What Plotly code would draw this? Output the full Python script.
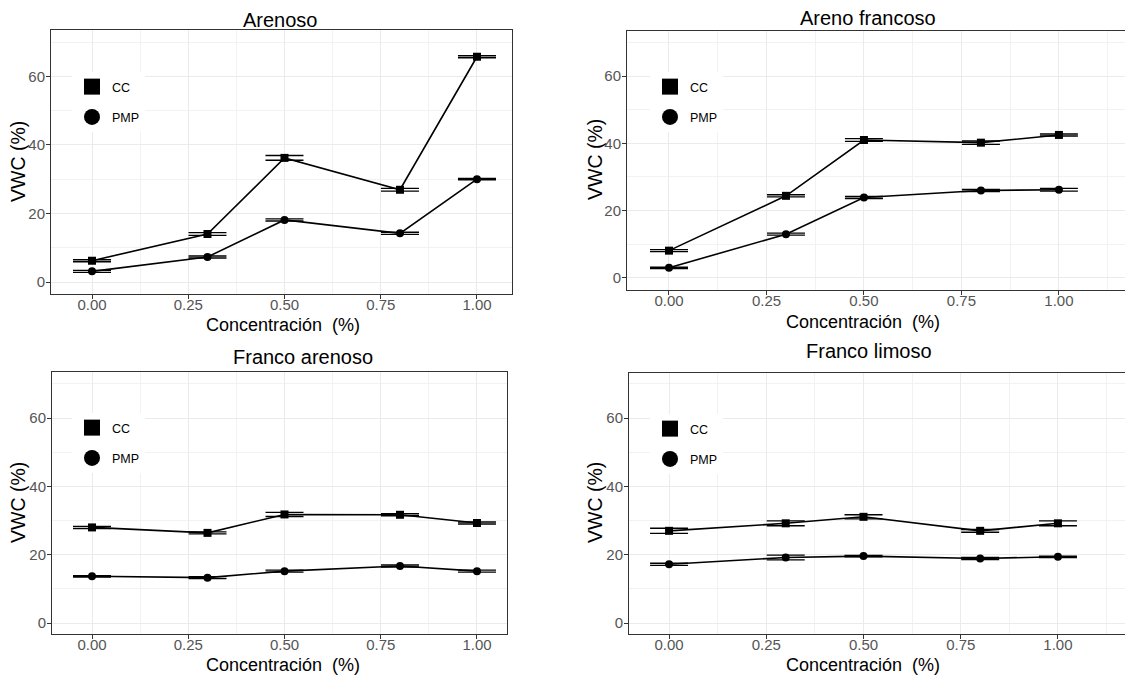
import plotly.graph_objects as go

# ---------------- data ----------------
conc = [0.0, 0.3, 0.5, 0.8, 1.0]
panel_titles = ["Arenoso", "Areno francoso", "Franco arenoso", "Franco limoso"]
series_names = ["CC", "PMP"]

cc_arenoso = [6.2, 14.0, 36.2, 26.9, 65.7]
pmp_arenoso = [3.1, 7.3, 18.1, 14.2, 30.0]
cc_err_arenoso = [0.3, 0.4, 0.7, 0.4, 0.3]
pmp_err_arenoso = [0.3, 0.3, 0.3, 0.3, 0.2]

cc_areno_francoso = [8.1, 24.4, 41.0, 40.2, 42.5]
pmp_areno_francoso = [3.0, 13.0, 23.9, 26.0, 26.2]
cc_err_areno_francoso = [0.3, 0.3, 0.4, 0.5, 0.3]
pmp_err_areno_francoso = [0.2, 0.3, 0.3, 0.3, 0.4]

cc_franco_arenoso = [28.0, 26.4, 31.8, 31.7, 29.3]
pmp_franco_arenoso = [13.7, 13.3, 15.2, 16.7, 15.2]
cc_err_franco_arenoso = [0.3, 0.3, 0.6, 0.3, 0.3]
pmp_err_franco_arenoso = [0.2, 0.3, 0.3, 0.3, 0.3]

cc_franco_limoso = [27.0, 29.2, 31.1, 27.0, 29.2]
pmp_franco_limoso = [17.2, 19.2, 19.6, 18.9, 19.4]
cc_err_franco_limoso = [0.75, 0.7, 0.6, 0.4, 0.7]
pmp_err_franco_limoso = [0.3, 0.7, 0.2, 0.3, 0.2]

x_ticks = [0.0, 0.25, 0.5, 0.75, 1.0]
x_ticktext = ["0.00", "0.25", "0.50", "0.75", "1.00"]
y_ticks = [0, 20, 40, 60]
x_title = "Concentración  (%)"
y_title = "VWC (%)"

cc_series = [cc_arenoso, cc_areno_francoso, cc_franco_arenoso, cc_franco_limoso]
pmp_series = [pmp_arenoso, pmp_areno_francoso, pmp_franco_arenoso, pmp_franco_limoso]
cc_errs = [cc_err_arenoso, cc_err_areno_francoso, cc_err_franco_arenoso, cc_err_franco_limoso]
pmp_errs = [pmp_err_arenoso, pmp_err_areno_francoso, pmp_err_franco_arenoso, pmp_err_franco_limoso]

# ---------------- layout geometry ----------------
OFF = 8                      # page body margin
W, H = 1133 - OFF, 675 - OFF
FONT = "Liberation Sans, Arial, sans-serif"


def px(x):
    return (x - OFF) / W


def py(y):
    return 1 - (y - OFF) / H


# pixel boxes in window coords: (left, right, top, bottom)
boxes = [(51, 512, 30, 294), (627, 1133, 31, 290), (52, 507, 372, 634), (629, 1133, 373, 634)]
xranges = [(-0.1065, 1.091), (-0.1077, 1.19), (-0.104, 1.078), (-0.103, 1.193)]
yranges = [(-3.5, 73.5), (-3.6, 73.4), (-3.2, 73.5), (-3.2, 73.2)]
right_border = [True, False, True, False]
title_pos = [(280, 20), (868, 18), (303, 357), (869, 351)]
xtitle_pos = [(283, 325), (863, 322), (283, 665), (863, 665)]
ytitle_pos = [(18, 162), (595, 160), (18, 503), (595, 503)]
legend_pos = [(72, 72), (650, 72), (72, 413), (650, 414)]

fig = go.Figure()
layout = dict(
    width=W, height=H,
    margin=dict(l=0, r=0, t=0, b=0, autoexpand=False),
    paper_bgcolor="white", plot_bgcolor="white",
    font=dict(family=FONT, color="black"),
    showlegend=True,
    annotations=[],
)

for i in range(4):
    sfx = "" if i == 0 else str(i + 1)
    xa, ya = "x" + sfx, "y" + sfx
    lg = "legend" + sfx
    l, r, t, b = boxes[i]
    layout["xaxis" + sfx] = dict(
        domain=[px(l), min(px(r), 1.0)], range=list(xranges[i]), anchor=ya, automargin=False,
        tickvals=x_ticks, ticktext=x_ticktext,
        ticks="outside", ticklen=4, tickcolor="#333333", tickwidth=1,
        ticklabelstandoff=-7,
        tickfont=dict(size=15, color="#555555", family=FONT),
        showgrid=True, gridcolor="#EBEBEB", gridwidth=1,
        minor=dict(dtick=0.125, tick0=0, showgrid=True, gridcolor="#F2F2F2", gridwidth=0.6, ticks=""),
        zeroline=False, showline=True, linecolor="#333333", linewidth=1, mirror=True,
    )
    layout["yaxis" + sfx] = dict(
        domain=[py(b), py(t)], range=list(yranges[i]), anchor=xa, automargin=False,
        tickvals=y_ticks,
        ticks="outside", ticklen=4, tickcolor="#333333", tickwidth=1,
        ticklabelstandoff=-2,
        tickfont=dict(size=15, color="#555555", family=FONT),
        showgrid=True, gridcolor="#EBEBEB", gridwidth=1,
        minor=dict(dtick=10, tick0=0, showgrid=True, gridcolor="#F2F2F2", gridwidth=0.6, ticks=""),
        zeroline=False, showline=True, linecolor="#333333", linewidth=1,
        mirror=right_border[i],
    )
    lx, ly = legend_pos[i]
    layout[lg] = dict(
        x=px(lx), y=py(ly), xanchor="left", yanchor="top",
        bgcolor="white", borderwidth=0, font=dict(size=12.5, color="black", family=FONT),
        tracegroupgap=11, itemsizing="trace", traceorder="grouped",
    )

    for name, ys, errs, sym in [("CC", cc_series[i], cc_errs[i], "square"),
                                ("PMP", pmp_series[i], pmp_errs[i], "circle")]:
        fig.add_trace(go.Scatter(
            x=conc, y=ys, mode="lines+markers", name=name,
            line=dict(color="black", width=1.6),
            marker=dict(symbol=sym, size=8, color="black"),
            error_y=dict(type="data", array=errs, visible=True, color="black",
                         thickness=1.4, width=19),
            xaxis=xa, yaxis=ya, showlegend=False, hoverinfo="x+y",
        ))
        # legend key (no data, legend only)
        fig.add_trace(go.Scatter(
            x=[None], y=[None], mode="markers", name=name,
            marker=dict(symbol=sym, size=16, color="black"),
            xaxis=xa, yaxis=ya, legend=lg, legendgroup=f"{i}_{name}",
            showlegend=True,
        ))

    tx, ty = title_pos[i]
    layout["annotations"].append(dict(
        text=panel_titles[i], x=px(tx), y=py(ty), xref="paper", yref="paper",
        xanchor="center", yanchor="middle", showarrow=False,
        font=dict(size=20, color="black", family=FONT)))
    ax_, ay_ = xtitle_pos[i]
    layout["annotations"].append(dict(
        text=x_title, x=px(ax_), y=py(ay_), xref="paper", yref="paper",
        xanchor="center", yanchor="middle", showarrow=False,
        font=dict(size=18, color="black", family=FONT)))
    bx, by = ytitle_pos[i]
    layout["annotations"].append(dict(
        text=y_title, x=px(bx), y=py(by), xref="paper", yref="paper",
        xanchor="center", yanchor="middle", showarrow=False, textangle=-90,
        font=dict(size=19.5, color="black", family=FONT)))

fig.update_layout(**layout)
fig.write_html("out.html")
